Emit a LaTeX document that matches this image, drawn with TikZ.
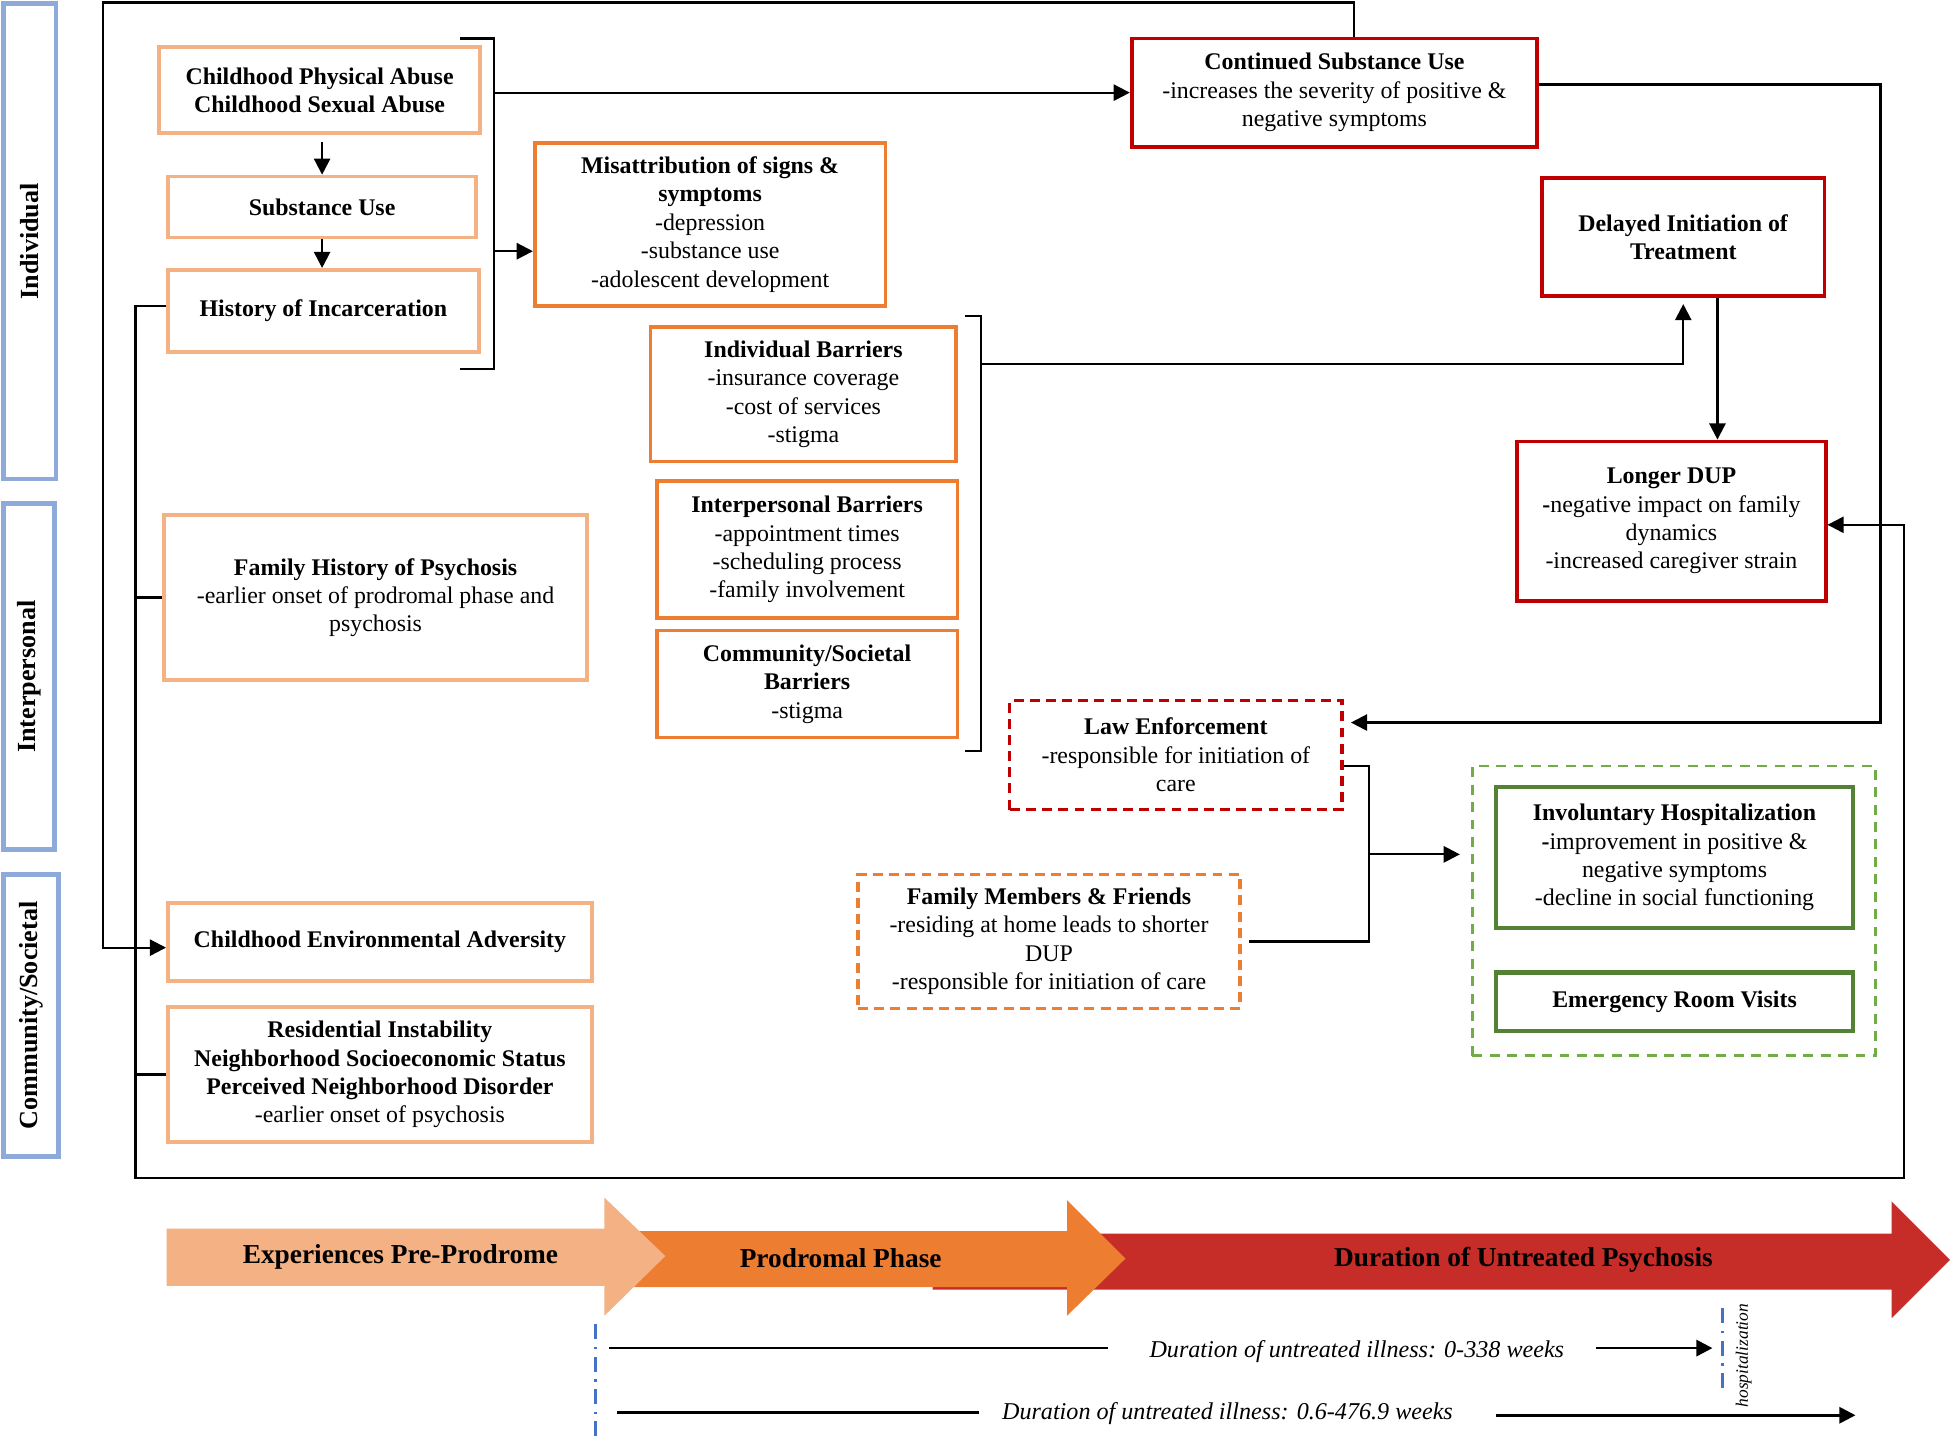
\documentclass[tikz,border=0pt]{standalone}
\usepackage{fontspec}
\setmainfont{Liberation Serif}
\usepackage{xcolor}
\usetikzlibrary{arrows.meta}

\definecolor{preorange}{HTML}{F4B183}
\definecolor{prodorange}{HTML}{ED7D31}
\definecolor{dupred}{HTML}{C00000}
\definecolor{phasered}{HTML}{C62D28}
\definecolor{hospgreen}{HTML}{548235}
\definecolor{grpgreen}{HTML}{70AD47}
\definecolor{lvlblue}{HTML}{8EAADB}
\definecolor{tlblue}{HTML}{4472C4}

\begin{document}
\begin{tikzpicture}[x=0.5pt,y=-0.5pt,line width=0.9pt,font=\fontsize{9.6}{11.4}\selectfont]
 \tikzstyle{box}=[draw, line width=1.5pt, align=center, inner sep=2pt]
 \tikzstyle{prebox}=[box, draw=preorange]
 \tikzstyle{probox}=[box, draw=prodorange]
 \tikzstyle{dupbox}=[box, draw=dupred]
 \tikzstyle{lawbox}=[box, draw=dupred, line width=1.3pt, dash pattern=on 4pt off 2.5pt]
 \tikzstyle{friendbox}=[box, draw=prodorange, line width=1.3pt, dash pattern=on 4pt off 2.5pt]
 \tikzstyle{grpbox}=[box, draw=grpgreen, line width=1.1pt, dash pattern=on 4pt off 3pt]
 \tikzstyle{hospbox}=[box, draw=hospgreen, line width=1.8pt]
 \tikzstyle{lvl}=[draw=lvlblue, line width=1.8pt, rotate=90, font=\fontsize{10.5}{12}\selectfont\bfseries]
 \tikzstyle{arr}=[-{Triangle[length=6.5pt,width=6.5pt]}]
 \tikzstyle{phase}=[font=\fontsize{11}{13}\selectfont\bfseries]
 \tikzstyle{durtxt}=[font=\fontsize{9.7}{12}\selectfont\itshape]
 \tikzstyle{blueline}=[draw=tlblue, line width=1.1pt, dash pattern=on 6pt off 3pt on 1pt off 3pt]

 \useasboundingbox (0,0) rectangle (1568,1154);

 % levels
 \node[lvl, minimum width=191pt, minimum height=21pt] (ind) at (24,194) {Individual};
 \node[lvl, minimum width=139pt, minimum height=20.5pt] (inter) at (23.5,544) {Interpersonal};
 \node[lvl, minimum width=113.5pt, minimum height=22pt] (comm) at (25,816.5) {Community/Societal};

 % pre-prodrome experiences
 \node[prebox, minimum width=129pt, minimum height=34.5pt] (cpa) at (257,72.5) {\textbf{Childhood Physical Abuse}\\\textbf{Childhood Sexual Abuse}};
 \node[prebox, minimum width=124pt, minimum height=24.5pt] (subuse) at (259,166.5) {\textbf{Substance Use}};
 \node[prebox, minimum width=125pt, minimum height=33pt] (incar) at (260,250) {\textbf{History of Incarceration}};
 \node[prebox, minimum width=170pt, minimum height=66.5pt] (famhist) at (302,480.5) {\textbf{Family History of Psychosis}\\-earlier onset of prodromal phase and\\psychosis};
 \node[prebox, minimum width=170.5pt, minimum height=31.5pt] (envadv) at (305.5,757.5) {\textbf{Childhood Environmental Adversity}};
 \node[prebox, minimum width=170.5pt, minimum height=54pt] (resid) at (305.5,864) {\textbf{Residential Instability}\\\textbf{Neighborhood Socioeconomic Status}\\\textbf{Perceived Neighborhood Disorder}\\-earlier onset of psychosis};

 % prodromal phase
 \node[probox, minimum width=141pt, minimum height=65.5pt] (misattr) at (571,180.5) {\textbf{Misattribution of signs \&}\\\textbf{symptoms}\\-depression\\-substance use\\-adolescent development};
 \node[probox, minimum width=123pt, minimum height=54pt] (indbar) at (646,317) {\textbf{Individual Barriers}\\-insurance coverage\\-cost of services\\-stigma};
 \node[probox, minimum width=121pt, minimum height=55pt] (interbar) at (649,442) {\textbf{Interpersonal Barriers}\\-appointment times\\-scheduling process\\-family involvement};
 \node[probox, minimum width=121pt, minimum height=43pt] (commbar) at (649,550) {\textbf{Community/Societal}\\\textbf{Barriers}\\-stigma};

 % untreated psychosis
 \node[dupbox, minimum width=163pt, minimum height=43.5pt] (contsub) at (1073,74.5) {\textbf{Continued Substance Use}\\-increases the severity of positive \&\\negative symptoms};
 \node[dupbox, minimum width=113.5pt, minimum height=47.5pt] (delay) at (1353.5,190.5) {\textbf{Delayed Initiation of}\\\textbf{Treatment}};
 \node[dupbox, minimum width=124pt, minimum height=64pt] (longdup) at (1344,419) {\textbf{Longer DUP}\\\textbf{-}negative impact on family\\dynamics\\-increased caregiver strain};
 \node[lawbox, minimum width=133.5pt, minimum height=44pt] (law) at (945.5,607) {\textbf{Law Enforcement}\\-responsible for initiation of\\care};
 \node[friendbox, minimum width=153.5pt, minimum height=54pt] (family) at (843.5,757) {\textbf{Family Members \& Friends}\\-residing at home leads to shorter\\DUP\\-responsible for initiation of care};

 % hospitalization
 \node[grpbox, minimum width=162pt, minimum height=116.5pt] (hosp) at (1346,732.5) {};
 \node[hospbox, minimum width=143.5pt, minimum height=56.5pt] (invol) at (1346.5,689.5) {\textbf{Involuntary Hospitalization}\\\textbf{-}improvement in positive \&\\negative symptoms\\-decline in social functioning};
 \node[hospbox, minimum width=143.5pt, minimum height=23.5pt] (er) at (1346.5,805.5) {\textbf{Emergency Room Visits}};

 % connectors
 \draw[arr, shorten <=3pt] (cpa.south -| subuse.north) -- (subuse.north);
 \draw[arr] (subuse.south) -- (subuse.south |- incar.north);

 \coordinate (brA1) at (370,31);
 \coordinate (brA2) at (397,31);
 \coordinate (brA3) at (397,297);
 \coordinate (brA4) at (370,297);
 \coordinate (brAmid) at (397,202);
 \draw (brA1) -- (brA2) -- (brA3) -- (brA4);
 \draw[arr] (brA2 |- contsub.west) -- (contsub.west);
 \draw[arr] (brAmid) -- (brAmid -| misattr.west);

 \coordinate (brB1) at (776,254);
 \coordinate (brB2) at (789,254);
 \coordinate (brB3) at (789,604);
 \coordinate (brB4) at (776,604);
 \coordinate (brBmid) at (789,293);
 \draw (brB1) -- (brB2) -- (brB3) -- (brB4);
 \draw[arr] (brBmid) -| ([yshift=-2.5pt]delay.south);
 \draw[arr] ([xshift=13.75pt]delay.south) -- ([xshift=13.75pt]delay.south |- longdup.north);

 \coordinate (rtop) at (1512,68);
 \draw[arr] (contsub.east |- rtop) -- (rtop) |- ([xshift=3pt,yshift=13pt]law.east);

 \coordinate (jn) at (1101,687);
 \draw ([yshift=-4.5pt]law.east) -| (jn) |- ([xshift=3pt]family.east);
 \draw[arr] (jn) -- ([xshift=-4.5pt]jn -| hosp.west);

 \coordinate (ftop) at (83,2);
 \draw[arr] ([xshift=8pt]contsub.north) |- (ftop) |- ([yshift=-2.25pt]envadv.west);

 \coordinate (fbl) at (109,947);
 \coordinate (fbr) at (1531,947);
 \draw[arr] ([yshift=2pt]incar.west) -| (fbl) -- (fbr) |- ([yshift=-1.5pt]longdup.east);
 \draw (famhist.west) -- (famhist.west -| fbl);
 \draw (resid.west) -- (resid.west -| fbl);

 % phases
 \fill[phasered] (750,992) -- (1521,992) -- (1521,966) -- (1568,1013) -- (1521,1060) -- (1521,1037) -- (750,1037) -- cycle;
 \fill[prodorange] (510,990) -- (858,990) -- (858,965) -- (905,1012) -- (858,1058) -- (858,1035) -- (510,1035) -- cycle;
 \fill[preorange] (134,988) -- (486,988) -- (486,963) -- (535,1010) -- (486,1058) -- (486,1034) -- (134,1034) -- cycle;
 \node[phase] (prephase) at (322,1011) {Experiences Pre-Prodrome};
 \node[phase] (prodphase) at (676,1012) {Prodromal Phase};
 \node[phase] (dupphase) at (1225,1013) {Duration of Untreated Psychosis};

 % timeline
 \coordinate (tlA1) at (479,1065);
 \coordinate (tlA2) at (479,1155);
 \coordinate (tlB1) at (1385,1052);
 \coordinate (tlB2) at (1385,1120);
 \draw[blueline] (tlA1) -- (tlA2);
 \draw[blueline] (tlB1) -- (tlB2);
 \node[rotate=90, font=\fontsize{7}{8}\selectfont\itshape] (hospnote) at (1402,1090) {hospitalization};

 \node[durtxt] (dur1) at (1091,1087) {Duration of untreated illness: 0-338 weeks};
 \node[durtxt] (dur2) at (987,1137) {Duration of untreated illness: 0.6-476.9 weeks};
 \coordinate (d1a) at (490,1084);
 \coordinate (d1b) at (1377,1084);
 \coordinate (d2a) at (496,1136);
 \coordinate (d2b) at (1492,1138);
 \draw[line width=1.1pt] (d1a) -- ([xshift=-13pt]d1a -| dur1.west);
 \draw[arr, line width=1.1pt] ([xshift=9pt]d1b -| dur1.east) -- (d1b);
 \draw[line width=1.1pt] (d2a) -- ([xshift=-5.5pt]d2a -| dur2.west);
 \draw[arr, line width=1.1pt] ([xshift=13.5pt]d2b -| dur2.east) -- (d2b);
\end{tikzpicture}
\end{document}
